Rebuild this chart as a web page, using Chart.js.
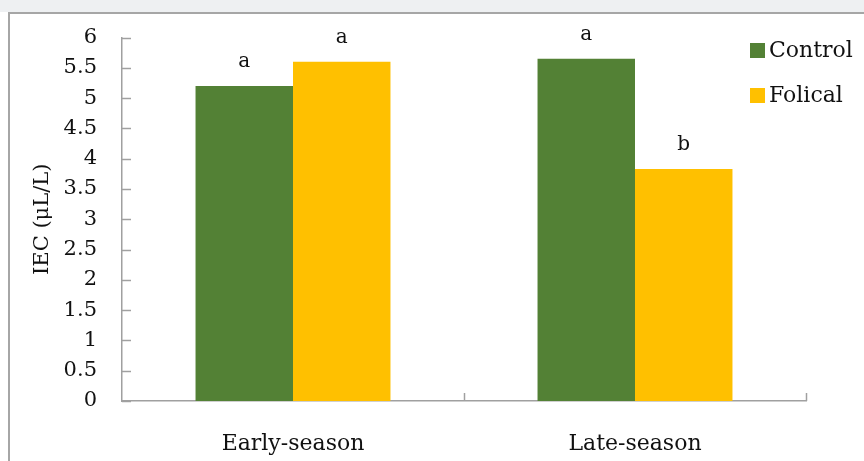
<!DOCTYPE html>
<html>
<head>
<meta charset="utf-8">
<script src="https://cdn.jsdelivr.net/npm/chart.js@4.4.0/dist/chart.umd.min.js"></script>
<style>
  html, body { margin: 0; padding: 0; background: #fff; }
  #wrap { position: relative; width: 864px; height: 461px; overflow: hidden; }
  #band { position: absolute; left: 0; top: 0; width: 864px; height: 12px; background: #eef0f2; }
  #frame { position: absolute; left: 8px; top: 12px; width: 900px; height: 500px; border: 2px solid #a6a6a6; box-sizing: border-box; }
  #chart { position: absolute; left: 0; top: 0; }
</style>
</head>
<body>
<div id="wrap">
  <div id="band"></div>
  <div id="frame"></div>
  <canvas id="chart" width="864" height="461"></canvas>
</div>
<script>
// IEC by season, control vs Folical
const seasons = ['Early-season', 'Late-season'];
const controlValues = [5.2, 5.65];
const folicalValues = [5.6, 3.83];
const controlLetters = ['a', 'a'];
const folicalLetters = ['a', 'b'];
const seriesNames = ['Control', 'Folical'];
const seriesColors = ['#538135', '#FFC000'];

const FONT = '"DejaVu Serif", serif';
const TEXT_COLOR = '#111';
const AXIS_COLOR = '#a0a0a0';

// small tick marks that sit inside the plot, plus the significance letters and legend
const decorPlugin = {
  id: 'decor',
  afterDraw(chart) {
    const { ctx, chartArea, scales } = chart;
    const y = scales.y, x = scales.x;
    ctx.save();
    ctx.strokeStyle = AXIS_COLOR;
    ctx.lineWidth = 1.5;
    y.ticks.forEach(t => {
      const py = Math.round(y.getPixelForValue(t.value)) + 0.5;
      ctx.beginPath();
      ctx.moveTo(chartArea.left, py);
      ctx.lineTo(chartArea.left + 9, py);
      ctx.stroke();
    });
    // category boundaries on the x axis (upward marks)
    const step = x.getPixelForValue(1) - x.getPixelForValue(0);
    for (let i = 1; i <= seasons.length; i++) {
      const px = Math.round(x.getPixelForValue(i - 1) + step / 2) + 0.5;
      ctx.beginPath();
      ctx.moveTo(px, chartArea.bottom);
      ctx.lineTo(px, chartArea.bottom - 8);
      ctx.stroke();
    }

    // letters above the bars
    ctx.fillStyle = TEXT_COLOR;
    ctx.font = '20px ' + FONT;
    ctx.textAlign = 'center';
    ctx.textBaseline = 'middle';
    const letters = [controlLetters, folicalLetters];
    chart.data.datasets.forEach((ds, di) => {
      chart.getDatasetMeta(di).data.forEach((bar, i) => {
        ctx.fillText(letters[di][i], bar.x, bar.y - 24);
      });
    });

    // legend
    ctx.textAlign = 'left';
    ctx.font = '22px ' + FONT;
    seriesNames.forEach((name, i) => {
      const ly = 50 + i * 45;
      ctx.fillStyle = seriesColors[i];
      ctx.fillRect(750, ly - 7, 15, 15);
      ctx.fillStyle = TEXT_COLOR;
      ctx.fillText(name, 769, ly + 1);
    });
    ctx.restore();
  }
};

new Chart(document.getElementById('chart'), {
  type: 'bar',
  data: {
    labels: seasons,
    datasets: [
      { label: seriesNames[0], data: controlValues, backgroundColor: seriesColors[0] },
      { label: seriesNames[1], data: folicalValues, backgroundColor: seriesColors[1] }
    ]
  },
  options: {
    responsive: false,
    animation: false,
    layout: { padding: { left: 22, right: 58, top: 35, bottom: 0 } },
    datasets: { bar: { barPercentage: 1.0, categoryPercentage: 0.57 } },
    plugins: {
      legend: { display: false },
      tooltip: { enabled: false }
    },
    scales: {
      x: {
        grid: { display: false },
        border: { display: true, color: AXIS_COLOR, width: 1.5 },
        ticks: { color: TEXT_COLOR, font: { family: FONT, size: 22 }, padding: 22 },
        afterFit(scale) { scale.height = 60; }
      },
      y: {
        min: 0,
        max: 6,
        grid: { display: false, drawTicks: false },
        border: { display: true, color: AXIS_COLOR, width: 1.5 },
        ticks: {
          stepSize: 0.5,
          color: TEXT_COLOR,
          font: { family: FONT, size: 21 },
          padding: 25,
          callback: v => String(v)
        },
        title: {
          display: true,
          text: 'IEC (μL/L)',
          color: TEXT_COLOR,
          font: { family: FONT, size: 21 },
          padding: { top: 8, bottom: 0 }
        },
        afterFit(scale) { scale.width = 100; }
      }
    }
  },
  plugins: [decorPlugin]
});
</script>
</body>
</html>
